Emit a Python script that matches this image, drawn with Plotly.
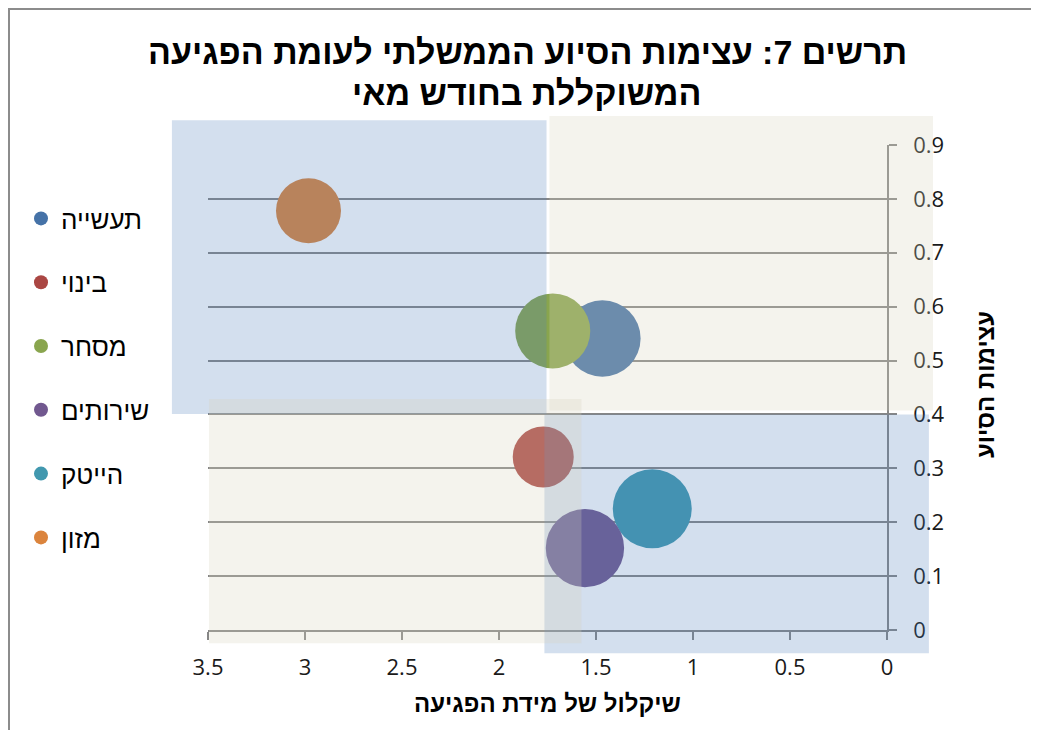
import plotly.graph_objects as go

# ---- data ----
sectors = ["תעשייה", "בינוי", "מסחר", "שירותים", "הייטק", "מזון"]
impact_weight = [1.467, 1.772, 1.723, 1.557, 1.210, 2.982]      # x: שיקלול של מידת הפגיעה
support_intensity = [0.541, 0.321, 0.555, 0.152, 0.225, 0.778]  # y: עצימות הסיוע
bubble_size = [5.8, 3.7, 5.6, 6.1, 6.2, 4.2]
colors = ["#4572A7", "#AA4643", "#89A54E", "#71588F", "#4198AF", "#DB843D"]

x_ticks = [3.5, 3, 2.5, 2, 1.5, 1, 0.5, 0]
x_ticklabels = ["3.5", "3", "2.5", "2", "1.5", "1", "0.5", "0"]
y_ticks = [0, 0.1, 0.2, 0.3, 0.4, 0.5, 0.6, 0.7, 0.8, 0.9]
y_ticklabels = ["0", "0.1", "0.2", "0.3", "0.4", "0.5", "0.6", "0.7", "0.8", "0.9"]

title_line1 = "<b>תרשים 7: עצימות הסיוע הממשלתי לעומת הפגיעה</b>"
title_line2 = "<b>המשוקללת בחודש מאי</b>"
x_title = "<b>שיקלול של מידת הפגיעה</b>"
y_title = "<b>עצימות הסיוע</b>"

# ---- layout constants (page pixels; page has an 8px body margin) ----
OFF = 8
W, H = 1026, 722
PLOT_L, PLOT_R, PLOT_T, PLOT_B = 208, 887, 145, 630   # page px of plot area
ML, MR, MT, MB = PLOT_L - OFF, W - (PLOT_R - OFF), PLOT_T - OFF, H - (PLOT_B - OFF)
PW, PH = PLOT_R - PLOT_L, PLOT_B - PLOT_T
X_RANGE = [3.5, 0]
Y_RANGE = [0, 0.9]
MAX_DIAM = 79
HEB_FONT = "Liberation Sans, Arial, DejaVu Sans, sans-serif"
NUM_FONT = "Open Sans, Lato, sans-serif"
GRID = "#868686"
FRAME = "#8C8C8C"
BLUE_BOX = "rgba(79,129,189,0.25)"
BEIGE_BOX = "rgba(213,209,190,0.27)"

# background quadrants in data units (x0, x1, y0, y1, fill); drawn above markers
quadrants = [
    (3.686, 1.755, 0.401, 0.946, BLUE_BOX),
    (1.766, -0.216, -0.043, 0.400, BLUE_BOX),
    (1.740, -0.237, 0.4075, 0.954, BEIGE_BOX),
    (3.495, 1.575, -0.0247, 0.4287, BEIGE_BOX),
]


def dx(v):  # data x -> paper
    return (X_RANGE[0] - v) / (X_RANGE[0] - X_RANGE[1])


def dy(v):  # data y -> paper
    return (v - Y_RANGE[0]) / (Y_RANGE[1] - Y_RANGE[0])


def px(p):  # page x pixel -> paper
    return (p - PLOT_L) / PW


def py(p):  # page y pixel -> paper
    return (PLOT_B - p) / PH


fig = go.Figure()

sizeref = 2 * max(bubble_size) / MAX_DIAM ** 2
order = sorted(range(len(sectors)), key=lambda i: -bubble_size[i])
for i in order:
    fig.add_trace(go.Scatter(
        x=[impact_weight[i]], y=[support_intensity[i]],
        mode="markers", name=sectors[i], showlegend=False,
        marker=dict(size=[bubble_size[i]], sizemode="area", sizeref=sizeref,
                    color=colors[i], opacity=1, line=dict(width=0)),
        hoverinfo="name+x+y",
    ))

# legend entries (original series order)
for i, s in enumerate(sectors):
    fig.add_trace(go.Scatter(
        x=[None], y=[None], mode="markers", name=s,
        legendgroup=s, marker=dict(size=14, color=colors[i]),
    ))

shapes = []
for x0, x1, y0, y1, fill in quadrants:
    shapes.append(dict(type="rect", xref="paper", yref="paper",
                       x0=dx(x0), x1=dx(x1), y0=dy(y0), y1=dy(y1),
                       fillcolor=fill, line=dict(width=0), layer="above"))
# chart frame: left and top edges as one open path
fx0, fy0 = px(OFF + 1), py(OFF + 1)
fx1, fy1 = px(OFF + W - 3), py(OFF + H)
shapes.append(dict(type="path", xref="paper", yref="paper",
                   path=f"M {fx0},{fy1} L {fx0},{fy0} L {fx1},{fy0}",
                   line=dict(color=FRAME, width=2), layer="below"))

fig.update_layout(
    width=W, height=H,
    margin=dict(l=ML, r=MR, t=MT, b=MB, pad=0),
    paper_bgcolor="white", plot_bgcolor="white",
    xaxis=dict(range=X_RANGE, tickvals=x_ticks, ticktext=x_ticklabels,
               showgrid=False, zeroline=False, showline=True,
               linecolor=GRID, linewidth=1.5, ticks="outside", ticklen=8,
               tickwidth=1.5, tickcolor=GRID, ticklabelstandoff=9,
               tickfont=dict(family=NUM_FONT, size=22, color="#1A1A1A")),
    yaxis=dict(range=Y_RANGE, tickvals=y_ticks, ticktext=y_ticklabels, side="right",
               showgrid=True, gridcolor=GRID, gridwidth=1.5, zeroline=False,
               showline=True, linecolor=GRID, linewidth=1.5, ticks="outside",
               ticklen=8, tickwidth=1.5, tickcolor=GRID, ticklabelstandoff=12,
               tickfont=dict(family=NUM_FONT, size=22, color="#1A1A1A")),
    legend=dict(x=px(21), xanchor="left", y=py(195), yanchor="top",
                font=dict(family=HEB_FONT, size=26, color="#000000"),
                tracegroupgap=27, traceorder="grouped", itemwidth=30,
                bgcolor="rgba(0,0,0,0)"),
    shapes=shapes,
    annotations=[
        dict(text=title_line1, xref="paper", yref="paper", x=px(527), y=py(52),
             xanchor="center", yanchor="middle", showarrow=False,
             font=dict(family=HEB_FONT, size=34, color="#000000")),
        dict(text=title_line2, xref="paper", yref="paper", x=px(527), y=py(93),
             xanchor="center", yanchor="middle", showarrow=False,
             font=dict(family=HEB_FONT, size=34, color="#000000")),
        dict(text=x_title, xref="paper", yref="paper", x=0.5, y=py(703),
             xanchor="center", yanchor="middle", showarrow=False,
             font=dict(family=HEB_FONT, size=24, color="#000000")),
        dict(text=y_title, xref="paper", yref="paper", x=px(985), y=py(385),
             xanchor="center", yanchor="middle", textangle=-90, showarrow=False,
             font=dict(family=HEB_FONT, size=24, color="#000000")),
    ],
)

fig.write_html("out.html")
